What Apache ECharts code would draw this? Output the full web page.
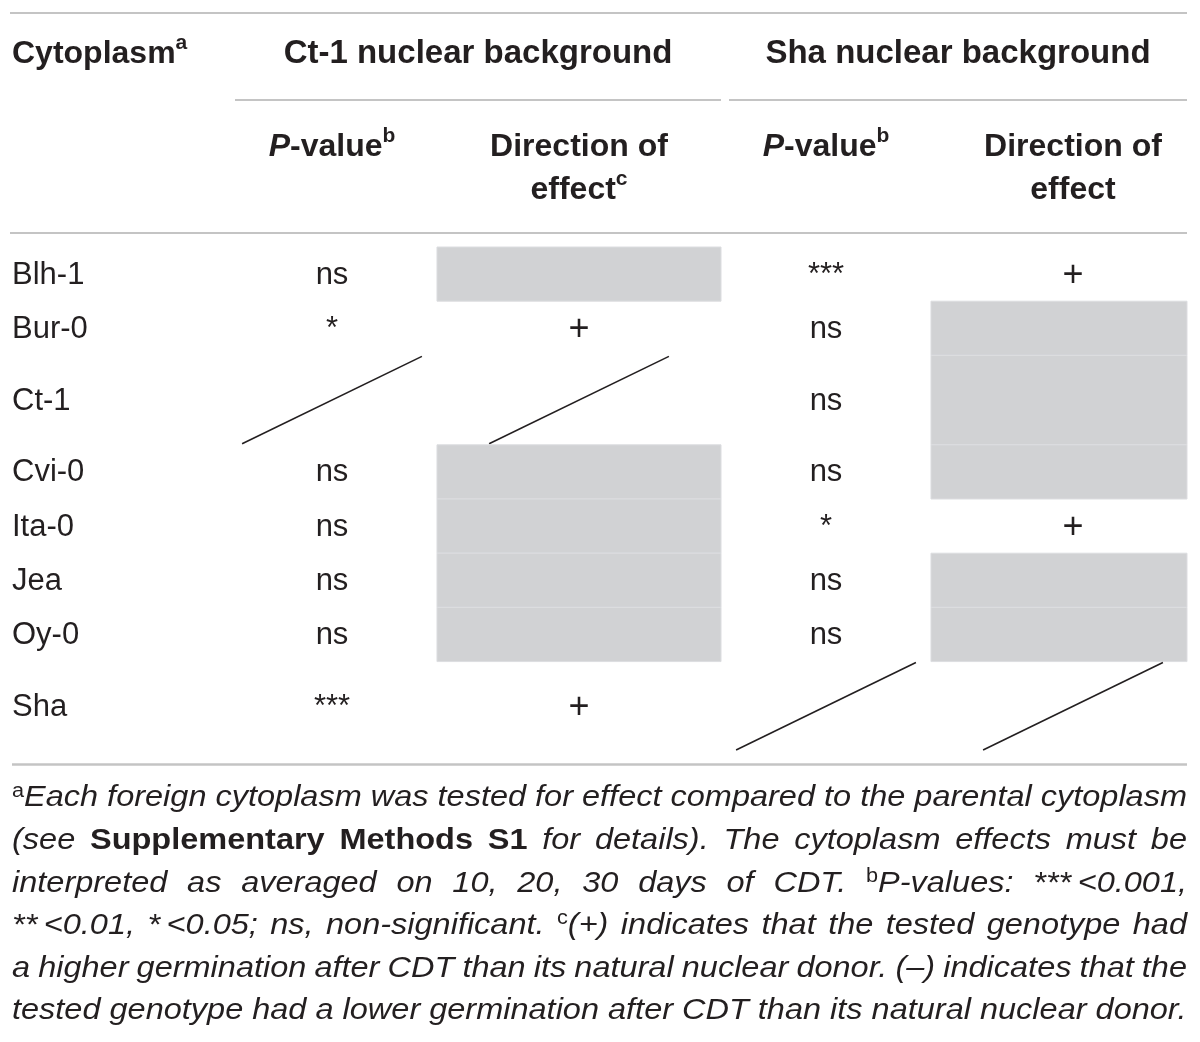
<!DOCTYPE html>
<html>
<head>
<meta charset="utf-8" />
<title>Cytoplasm effects</title>
<script src="https://cdn.jsdelivr.net/npm/echarts@6/dist/echarts.min.js"></script>
<style>
	html, body { margin: 0; padding: 0; background: #fff; }
	#table { width: 1200px; height: 1042px; }
</style>
</head>
<body>
<div id="table"></div>
<script type="text/javascript">
	/********************************** data ***********************************/
	var cytoplasms = ['Blh-1', 'Bur-0', 'Ct-1', 'Cvi-0', 'Ita-0', 'Jea', 'Oy-0', 'Sha'];
	// null = the cytoplasm of the nuclear donor itself (crossed out), '' = no effect (shaded)
	var ct1PValue    = ['ns', '*', null, 'ns', 'ns', 'ns', 'ns', '***'];
	var ct1Direction = ['', '+', null, '', '', '', '', '+'];
	var shaPValue    = ['***', 'ns', 'ns', 'ns', '*', 'ns', 'ns', null];
	var shaDirection = ['+', '', '', '', '+', '', '', null];

	var groupHeaders = ['Ct-1 nuclear background', 'Sha nuclear background'];
	var subHeaders = ['{pi|P}{b|-value}{s|b}', '{b|Direction of}\n{b|effect}{s|c}',
		'{pi|P}{b|-value}{s|b}', '{b|Direction of}\n{b|effect}'];

	var notes = [
		'{s|a}Each foreign cytoplasm was tested for effect compared to the parental cytoplasm',
		'(see {b|Supplementary Methods S1} for details). The cytoplasm effects must be',
		'interpreted as averaged on 10, 20, 30 days of CDT. {s|b}P-values: ***\u2009<0.001,',
		'**\u2009<0.01, *\u2009<0.05; ns, non-significant. {s|c}(+) indicates that the tested genotype had',
		'a higher germination after CDT than its natural nuclear donor. (\u2013) indicates that the',
		'tested genotype had a lower germination after CDT than its natural nuclear donor.'
	];

	/********************************** layout ***********************************/
	var INK = '#231f20';
	var RULE = '#c4c4c4';
	var SHADE = '#d1d2d4';
	var FONT = '"Liberation Sans", Arial, sans-serif';
	var ROW_SPAN = [1, 1, 1.65, 1, 1, 1, 1, 1.65];
	var COL_X0 = 332, COL_STEP = 247;      // pixel centre of first data column, column pitch
	var LABEL_X = -1.2955;                 // row label left edge, in column units
	var TABLE_RIGHT = 3.4615;              // right edge of the table, in column units
	var SHADE_HALF = 0.575;
	var DIAG_HALF = 0.364;

	var bands = [];
	(function () {
		var acc = 0;
		ROW_SPAN.forEach(function (s) { bands.push([acc, acc + s]); acc += s; });
	})();
	var Y_MAX = bands[bands.length - 1][1];

	var columns = [ct1PValue, ct1Direction, shaPValue, shaDirection];
	var cellData = [];
	columns.forEach(function (col, c) {
		col.forEach(function (v, r) { cellData.push({ value: [c, r], text: v }); });
	});
	var labelData = cytoplasms.map(function (name, r) { return { value: [LABEL_X, r], text: name }; });

	function textEl(x, y, text, extra) {
		var style = {
			text: text, fill: INK, fontSize: 31, fontFamily: FONT,
			align: 'center', textAlign: 'center', verticalAlign: 'middle', textVerticalAlign: 'middle'
		};
		for (var k in extra) style[k] = extra[k];
		return { type: 'text', x: x, y: y, style: style };
	}

	function renderCell(params, api) {
		var c = api.value(0), r = api.value(1);
		var text = cellData[params.dataIndex].text;
		var top = api.coord([c, bands[r][0]]);
		var bottom = api.coord([c, bands[r][1]]);
		var kids = [];
		if (text === null) {
			var a = api.coord([c - DIAG_HALF, bands[r][1]]);
			var b = api.coord([c + DIAG_HALF, bands[r][0]]);
			kids.push({ type: 'line', shape: { x1: a[0], y1: a[1] - 1, x2: b[0], y2: b[1] + 1 },
				style: { stroke: INK, lineWidth: 1.6 } });
		} else {
			if (c % 2 === 1 && text === '') {
				var l = api.coord([c - SHADE_HALF, 0])[0];
				var rr = api.coord([Math.min(c + SHADE_HALF, TABLE_RIGHT), 0])[0];
				kids.push({ type: 'rect', shape: { x: l, y: top[1], width: rr - l, height: bottom[1] - top[1] },
					style: { fill: SHADE, stroke: '#dcdde0', lineWidth: 1 } });
			}
			if (text) kids.push(textEl(top[0], (top[1] + bottom[1]) / 2 + (text === '+' ? 2 : 1), text,
				text === '+' ? { fontSize: 36, fontWeight: 'lighter' } : {}));
		}
		return { type: 'group', children: kids };
	}

	function renderLabel(params, api) {
		var r = api.value(1);
		var top = api.coord([api.value(0), bands[r][0]]);
		var bottom = api.coord([api.value(0), bands[r][1]]);
		return textEl(top[0], (top[1] + bottom[1]) / 2 + 1, labelData[params.dataIndex].text,
			{ align: 'left', textAlign: 'left' });
	}

	/********************************** header ***********************************/
	var headRich = {
		b: { fontSize: 32, fontWeight: 'bold', fontFamily: FONT, fill: INK, lineHeight: 43 },
		g: { fontSize: 33, fontWeight: 'bold', fontFamily: FONT, fill: INK, lineHeight: 43 },
		pi: { fontSize: 32, fontWeight: 'bold', fontStyle: 'italic', fontFamily: FONT, fill: INK, lineHeight: 43 },
		s: { fontSize: 21, fontWeight: 'bold', fontFamily: FONT, fill: INK, lineHeight: 21, verticalAlign: 'top' }
	};
	function headEl(x, y, text, align) {
		return { type: 'text', x: x, y: y, style: {
			text: text, rich: headRich, align: align, textAlign: align,
			verticalAlign: 'middle', textVerticalAlign: 'middle' } };
	}
	function rule(x1, x2, y, w) {
		return { type: 'line', shape: { x1: x1, y1: y, x2: x2, y2: y }, style: { stroke: RULE, lineWidth: w || 2 } };
	}

	var graphics = [
		rule(10, 1187, 13), rule(235, 721, 100), rule(729, 1187, 100), rule(10, 1187, 233), rule(12, 1187, 764.5, 2.5),
		headEl(12, 54, '{b|Cytoplasm}{s|a}', 'left'),
		headEl(478, 54, '{g|' + groupHeaders[0] + '}', 'center'),
		headEl(958, 54, '{g|' + groupHeaders[1] + '}', 'center')
	];
	subHeaders.forEach(function (h, c) {
		var twoLines = h.indexOf('\n') >= 0;
		graphics.push(headEl(COL_X0 + COL_STEP * c, twoLines ? 168.5 : 147, h, 'center'));
	});

	/********************************** footnote ***********************************/
	var NOTE_SIZE = 30;
	var noteFonts = {
		i: { fontStyle: 'italic', fontWeight: 'normal', fontSize: NOTE_SIZE },
		b: { fontStyle: 'normal', fontWeight: 'bold', fontSize: NOTE_SIZE },
		s: { fontStyle: 'normal', fontWeight: 'normal', fontSize: 20 }
	};
	var noteRich = {};
	for (var k in noteFonts) {
		var f = noteFonts[k];
		noteRich[k] = { fontStyle: f.fontStyle, fontWeight: f.fontWeight, fontSize: f.fontSize,
			fontFamily: FONT, fill: INK, lineHeight: k === 's' ? 20 : 34, verticalAlign: k === 's' ? 'top' : 'middle' };
	}
	var ctx = document.createElement('canvas').getContext('2d');
	function measure(str, key) {
		var f = noteFonts[key];
		ctx.font = f.fontStyle + ' ' + f.fontWeight + ' ' + f.fontSize + 'px ' + FONT;
		return ctx.measureText(str).width;
	}
	function parseLine(src) {
		var words = [], cur = null, re = /\{(\w+)\|([^}]*)\}|([^{]+)/g, m;
		while ((m = re.exec(src))) {
			var key = m[1] || 'i', txt = m[1] ? m[2] : m[3];
			txt.split(' ').forEach(function (p, n) {
				if (n > 0) cur = null;
				if (!p) return;
				if (!cur) { cur = []; words.push(cur); }
				cur.push([key, p]);
			});
		}
		return words;
	}

	var NOTE_LEFT = 12, NOTE_RIGHT = 1187, NOTE_Y0 = 798, NOTE_STEP = 42.6;
	var spaceW = measure(' ', 'i');
	var noteLines = notes.map(function (src) {
		var words = parseLine(src);
		var widths = words.map(function (w) {
			return w.reduce(function (s, seg) { return s + measure(seg[1], seg[0]); }, 0);
		});
		return { words: words, widths: widths, total: widths.reduce(function (a, b) { return a + b; }, 0) };
	});
	var first = noteLines[0];
	var scaleX = (NOTE_RIGHT - NOTE_LEFT) / (first.total + spaceW * (first.words.length - 1));
	var noteKids = [];
	noteLines.forEach(function (line, li) {
		var n = line.words.length;
		var gap = li === noteLines.length - 1 ? spaceW
			: ((NOTE_RIGHT - NOTE_LEFT) / scaleX - line.total) / (n - 1);
		var x = 0;
		line.words.forEach(function (w, wi) {
			noteKids.push({ type: 'text', x: x, y: NOTE_Y0 + NOTE_STEP * li, style: {
				text: w.map(function (seg) { return '{' + seg[0] + '|' + seg[1] + '}'; }).join(''),
				rich: noteRich, align: 'left', textAlign: 'left', verticalAlign: 'middle', textVerticalAlign: 'middle' } });
			x += line.widths[wi] + gap;
		});
	});
	graphics.push({ type: 'group', x: NOTE_LEFT, y: 0, scaleX: scaleX, children: noteKids });

	/********************************** chart ***********************************/
	var myChart = echarts.init(document.getElementById('table'));
	var option = {
		animation: false,
		backgroundColor: '#fff',
		grid: { left: COL_X0 - 0.5 * COL_STEP, right: 1200 - (COL_X0 + 3.5 * COL_STEP), top: 247, bottom: 1042 - 751 },
		xAxis: { type: 'value', min: -0.5, max: 3.5, show: false },
		yAxis: { type: 'value', min: 0, max: Y_MAX, inverse: true, show: false },
		tooltip: { show: false },
		series: [
			{ type: 'custom', coordinateSystem: 'cartesian2d', clip: false, silent: true,
				renderItem: renderCell, data: cellData },
			{ type: 'custom', coordinateSystem: 'cartesian2d', clip: false, silent: true,
				renderItem: renderLabel, data: labelData }
		],
		graphic: { elements: graphics }
	};
	myChart.setOption(option);
</script>
</body>
</html>
